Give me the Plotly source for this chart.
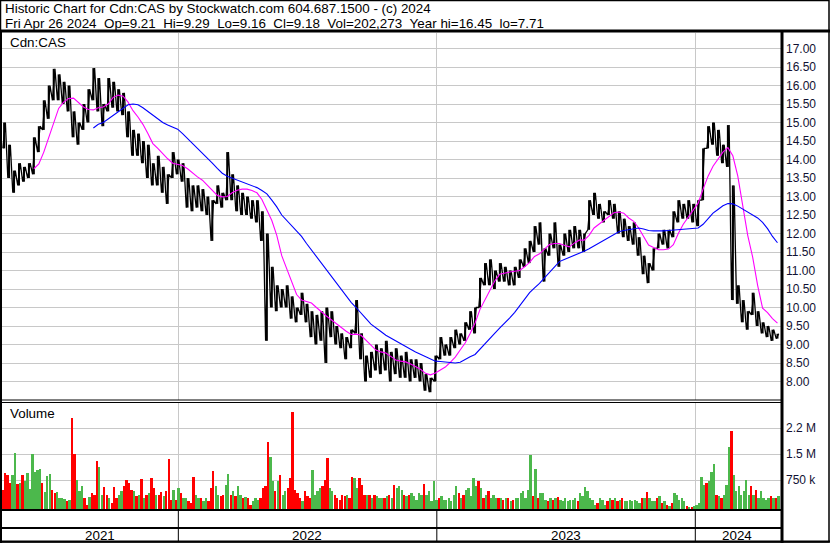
"""
Stockwatch style historic chart for Cdn:CAS (weekly highs / lows read off the chart).
"""
import pandas as pd
import plotly.graph_objects as go

W, H = 830, 543
# plot area in pixels
PL, PR, PT, PB = 2, 781, 33, 509

# week-ending Fridays covered by the chart
weeks = pd.date_range("2021-04-30", "2024-04-26", freq="W-FRI")

week_hi = [
    15.0, 14.4, 13.7, 13.9, 13.8, 13.9, 14.6, 14.9, 15.6, 16.0,
    16.45, 16.3, 16.1, 16.0, 15.3, 15.0, 15.5, 15.9, 16.47, 16.2,
    15.5, 16.2, 16.1, 15.9, 15.8, 15.3, 14.8, 14.7, 14.5, 14.4,
    13.9, 14.1, 13.8, 13.6, 14.2, 14.0, 13.9, 13.5, 13.3, 13.3,
    13.2, 13.0, 12.9, 13.3, 13.1, 14.2, 13.6, 13.3, 13.1, 13.0,
    12.9, 12.9, 12.6, 12.0, 11.1, 10.6, 10.5, 10.6, 10.3, 10.0,
    10.4, 10.1, 9.9, 9.8, 9.9, 10.0, 9.9, 9.5, 9.3, 9.2,
    9.4, 10.2, 9.3, 8.7, 8.8, 9.0, 8.9, 9.1, 8.8, 8.9,
    8.7, 8.8, 8.6, 8.6, 8.5, 8.2, 8.1, 8.7, 9.2, 9.0,
    9.2, 9.4, 9.3, 9.6, 9.9, 10.0, 10.8, 11.2, 11.3, 11.0,
    11.2, 11.1, 11.0, 11.1, 11.3, 11.6, 11.8, 12.2, 12.3, 11.6,
    12.0, 12.3, 11.7, 12.0, 12.1, 12.2, 12.1, 12.0, 12.9, 13.1,
    12.8, 12.6, 12.9, 12.8, 12.6, 12.4, 12.2, 12.3, 11.9, 11.4,
    11.2, 11.6, 12.0, 12.1, 12.1, 12.6, 12.9, 12.8, 12.9, 12.8,
    12.9, 14.3, 14.9, 15.0, 14.8, 14.4, 14.93, 13.3, 10.6, 10.2,
    9.9, 10.4, 9.9, 9.6, 9.5, 9.4, 9.29,
]
week_lo = [
    14.3, 13.5, 13.1, 13.3, 13.4, 13.5, 13.6, 14.2, 14.8, 15.1,
    15.6, 15.6, 15.5, 15.3, 14.6, 14.4, 14.8, 15.0, 15.6, 15.3,
    14.9, 15.3, 15.4, 15.3, 15.2, 14.6, 14.1, 14.1, 13.9, 13.5,
    13.3, 13.3, 13.1, 12.8, 13.5, 13.6, 13.4, 12.7, 12.6, 12.7,
    12.6, 12.5, 11.8, 12.8, 12.7, 12.9, 12.9, 12.6, 12.5, 12.5,
    12.4, 12.3, 11.8, 9.1, 10.0, 9.9, 10.0, 10.0, 9.7, 9.6,
    9.8, 9.6, 9.2, 9.0, 9.1, 8.5, 9.2, 9.0, 8.9, 8.6,
    8.9, 9.3, 8.6, 8.0, 8.1, 8.3, 8.2, 8.3, 8.0, 8.2,
    8.1, 8.1, 8.0, 8.1, 8.0, 7.75, 7.71, 8.0, 8.6, 8.7,
    8.7, 8.9, 9.0, 9.1, 9.4, 9.3, 10.0, 10.6, 10.6, 10.5,
    10.7, 10.7, 10.6, 10.6, 10.8, 11.1, 11.2, 11.5, 11.7, 10.7,
    11.4, 11.6, 11.1, 11.4, 11.5, 11.6, 11.6, 11.5, 12.1, 12.5,
    12.4, 12.3, 12.5, 12.4, 12.0, 11.9, 11.8, 11.7, 11.4, 10.9,
    10.66, 11.0, 11.6, 11.7, 11.6, 11.9, 12.3, 12.4, 12.4, 12.3,
    12.2, 12.9, 14.3, 14.4, 14.1, 13.9, 13.8, 10.2, 10.1, 9.6,
    9.4, 9.8, 9.5, 9.3, 9.2, 9.1, 9.16,
]

# short (magenta) and long (blue) moving averages, read weekly
ma_short = [None] * 6 + [
    13.75, 13.88, 14.2, 14.6,
    15.0, 15.38, 15.55, 15.65, 15.66, 15.55, 15.42, 15.35, 15.34, 15.4,
    15.42, 15.5, 15.68, 15.74, 15.71, 15.55, 15.32, 15.15, 14.95, 14.7,
    14.43, 14.3, 14.15, 14.02, 13.9, 13.87, 13.84, 13.75, 13.63, 13.53,
    13.44, 13.3, 13.17, 13.03, 12.99, 13.0, 13.1, 13.17, 13.2, 13.2,
    13.16, 13.1, 12.92, 12.65, 12.35, 11.95, 11.4, 11.05, 10.7, 10.35,
    10.2, 10.16, 10.12, 10.0, 9.88, 9.77, 9.67, 9.56, 9.45, 9.36,
    9.27, 9.28, 9.25, 9.12, 8.98, 8.85, 8.8, 8.77, 8.68, 8.58,
    8.55, 8.53, 8.47, 8.4, 8.33, 8.22, 8.18, 8.23, 8.3, 8.39,
    8.52, 8.66, 8.85, 9.04, 9.3, 9.58, 9.95, 10.2, 10.45, 10.72,
    10.9, 10.94, 10.96, 10.98, 11.0, 11.1, 11.22, 11.38, 11.45, 11.58,
    11.7, 11.73, 11.73, 11.68, 11.64, 11.74, 11.82, 11.82, 11.95, 12.15,
    12.25, 12.34, 12.45, 12.56, 12.58, 12.55, 12.42, 12.33, 12.15, 11.92,
    11.69, 11.62, 11.56, 11.56, 11.58, 11.7, 12.0, 12.25, 12.45, 12.65,
    12.82, 13.2, 13.55, 13.82, 14.0, 14.2, 14.32, 14.1, 13.55, 12.7,
    11.95, 11.36, 10.6, 9.98, 9.86, 9.7, 9.58,
]
ma_long = [None] * 18 + [
    14.85, 14.95,
    15.0, 15.1, 15.2, 15.3, 15.39, 15.48, 15.5, 15.48, 15.4, 15.3,
    15.2, 15.1, 15.0, 14.93, 14.88, 14.82, 14.7, 14.57, 14.44, 14.3,
    14.17, 14.04, 13.9, 13.76, 13.63, 13.55, 13.5, 13.45, 13.4, 13.35,
    13.3, 13.24, 13.16, 13.07, 12.9, 12.72, 12.5, 12.36, 12.22, 12.08,
    11.92, 11.73, 11.55, 11.37, 11.2, 11.02, 10.85, 10.65, 10.47, 10.29,
    10.14, 10.0, 9.86, 9.7, 9.55, 9.44, 9.35, 9.25, 9.17, 9.09,
    9.02, 8.94, 8.87, 8.8, 8.74, 8.68, 8.61, 8.55, 8.54, 8.53,
    8.52, 8.5, 8.52, 8.6, 8.67, 8.73, 8.88, 9.04, 9.18, 9.31,
    9.45, 9.58, 9.72, 9.87, 10.05, 10.24, 10.4, 10.53, 10.65, 10.8,
    10.95, 11.12, 11.24, 11.3, 11.35, 11.4, 11.46, 11.52, 11.59, 11.67,
    11.75, 11.83, 11.91, 11.98, 12.05, 12.08, 12.1, 12.13, 12.15, 12.12,
    12.08, 12.07, 12.06, 12.07, 12.08, 12.09, 12.1, 12.11, 12.12, 12.13,
    12.15, 12.25, 12.4, 12.55, 12.65, 12.75, 12.81, 12.8, 12.74, 12.66,
    12.58, 12.5, 12.42, 12.3, 12.13, 11.92, 11.75,
]

# volume, two half-week bars per week (thousands of shares), g = up, r = down
vol_a = [
    560, 990, 990, 724, 990, 1040, 1600, 1130, 750, 960,
    560, 480, 330, 220, 2630, 840, 655, 125, 460, 1380,
    413, 413, 173, 317, 510, 840, 558, 365, 865, 413,
    894, 413, 490, 510, 270, 270, 462, 317, 173, 413,
    317, 317, 620, 654, 365, 700, 413, 365, 413, 360,
    125, 317, 317, 650, 1490, 510, 970, 510, 895, 558,
    317, 510, 317, 413, 606, 840, 606, 413, 270, 365,
    317, 894, 895, 413, 413, 413, 317, 317, 413, 700,
    654, 413, 413, 365, 462, 720, 510, 800, 317, 270,
    317, 413, 462, 413, 606, 894, 800, 317, 510, 413,
    317, 270, 317, 270, 317, 510, 558, 365, 317, 462,
    221, 270, 350, 221, 221, 270, 221, 365, 510, 270,
    173, 270, 221, 270, 221, 317, 221, 221, 221, 317,
    480, 221, 317, 173, 125, 173, 413, 317, 80, 60,
    125, 920, 760, 1070, 413, 317, 700, 2240, 510, 413,
    835, 654, 558, 510, 270, 365, 317,
]
dir_a = (
    "rrgrrgggrg" "rggrrggrrr" "grrrgrrrrr" "rgrrrrrgrg"
    "rgrgrgrrgg" "rgrrgrrgrr" "rrrggrgrrr" "rgrrrrgrrr"
    "grrggrggrg" "ggrrggrrrg" "rrrrgggrrg" "rrrgggrggg"
    "rgrrrrgggr" "rgrrrrggrr" "ggrgrrgrgg" "grrggrr"
)
vol_b = [
    1040, 750, 1620, 750, 800, 580, 1080, 1150, 480, 1000,
    450, 330, 300, 260, 1590, 520, 320, 350, 413, 1200,
    626, 317, 626, 413, 654, 750, 510, 413, 317, 462,
    606, 413, 365, 1440, 558, 606, 330, 221, 915, 317,
    221, 221, 1100, 413, 413, 1000, 510, 654, 317, 317,
    221, 270, 606, 1930, 800, 798, 413, 606, 2800, 462,
    221, 365, 1130, 510, 654, 1470, 510, 317, 413, 413,
    915, 606, 702, 413, 317, 365, 317, 365, 317, 606,
    558, 365, 462, 270, 413, 413, 221, 270, 365, 270,
    221, 650, 317, 558, 365, 654, 606, 413, 317, 317,
    317, 317, 221, 317, 462, 317, 1550, 1150, 462, 270,
    317, 317, 270, 317, 270, 317, 462, 640, 317, 125,
    317, 125, 317, 317, 270, 221, 270, 270, 173, 317,
    317, 221, 365, 221, 77, 462, 270, 221, 60, 77,
    173, 702, 800, 1300, 365, 413, 1780, 980, 655, 510,
    413, 413, 317, 317, 317, 317, 365,
]
dir_b = (
    "rrggggggggr" "gggrgrgrgr" "grgrrggggr" "rgrgggrrgg"
    "rrgrgggrrgg" "rrgggrrrgr" "ggrrgrrgrgr" "gg"
)

price_ticks = [8.0, 8.5, 9.0, 9.5, 10.0, 10.5, 11.0, 11.5, 12.0, 12.5, 13.0,
               13.5, 14.0, 14.5, 15.0, 15.5, 16.0, 16.5, 17.0]
vol_ticks = [750000, 1500000, 2250000]
vol_tick_text = ["750 k", "1.5 M", "2.2 M"]
year_edges = ["2022-01-01", "2023-01-01", "2024-01-01"]
year_labels = ["2021", "2022", "2023", "2024"]
year_mids = ["2021-09-13", "2022-07-02", "2023-07-02", "2024-02-29"]

header1 = "Historic Chart for Cdn:CAS by Stockwatch.com 604.687.1500 - (c) 2024"
header2 = ("Fri Apr 26 2024&nbsp;&nbsp;Op=9.21&nbsp;&nbsp;Hi=9.29&nbsp;&nbsp;Lo=9.16"
           "&nbsp;&nbsp;Cl=9.18&nbsp;&nbsp;Vol=202,273&nbsp;&nbsp;Year hi=16.45&nbsp;&nbsp;lo=7.71")

FONT = "Liberation Sans, Arial, sans-serif"
GREEN = "#4cb84c"
RED = "#ff0000"
TXT = 13.4


def px(x):
    return (x - PL) / (PR - PL)


def py(y):
    return (PB - y) / (PB - PT)


day = pd.Timedelta(days=1)
pos_a = weeks - 1.75 * day
pos_b = weeks + 1.75 * day

# pad the volume colour strings if they came out short
dir_a = (dir_a + "r" * len(vol_a))[:len(vol_a)]
dir_b = (dir_b + "g" * len(vol_b))[:len(vol_b)]

# zig-zag through the weekly low and high, plus a high-low bar for each week
zx, zy = [], []
bx, by = [], []
for a, b, wk, lo, hi in zip(pos_a, pos_b, weeks, week_lo, week_hi):
    zx += [a, b]
    zy += [lo, hi]
    bx += [wk, wk, None]
    by += [lo, hi, None]

fig = go.Figure()
fig.add_trace(go.Scatter(x=bx, y=by, mode="lines", line=dict(color="black", width=2),
                         xaxis="x", yaxis="y", hoverinfo="skip"))
fig.add_trace(go.Scatter(x=zx, y=zy, mode="lines", line=dict(color="black", width=1.3),
                         xaxis="x", yaxis="y", hoverinfo="skip"))
fig.add_trace(go.Scatter(x=weeks, y=ma_short, mode="lines", line=dict(color="#ff00ff", width=1.1),
                         xaxis="x", yaxis="y", connectgaps=False))
fig.add_trace(go.Scatter(x=weeks, y=ma_long, mode="lines", line=dict(color="#0000ff", width=1.1),
                         xaxis="x", yaxis="y", connectgaps=False))

bar_w = 2.6 * 86400000
fig.add_trace(go.Bar(x=pos_a, y=[v * 1000 for v in vol_a], base=-87000,
                     marker=dict(color=[GREEN if c == "g" else RED for c in dir_a], line_width=0),
                     width=bar_w, xaxis="x2", yaxis="y2"))
fig.add_trace(go.Bar(x=pos_b, y=[v * 1000 for v in vol_b], base=-87000,
                     marker=dict(color=[GREEN if c == "g" else RED for c in dir_b], line_width=0),
                     width=bar_w, xaxis="x2", yaxis="y2"))

xrange = ["2021-04-27", "2024-05-01"]
grid = "#c8c8c8"
axis_x = dict(type="date", range=xrange, tickvals=year_edges, showticklabels=False,
              showgrid=True, gridcolor=grid, gridwidth=1, zeroline=False, showline=False,
              ticks="")

# price axis spans 7.5 (y=400) up to the top of the panel
p_top = 17 + (48.5 - PT) / 37
p_bot = 17 - (400 - 48.5) / 37
v_per_px = 750000 / 26
v_bot = -(509 - 506) * v_per_px
v_top = (506 - 403) * v_per_px

fig.update_layout(
    width=W, height=H,
    margin=dict(l=PL, r=W - PR, t=PT, b=H - PB),
    paper_bgcolor="white", plot_bgcolor="white",
    showlegend=False, bargap=0, barmode="overlay",
    font=dict(family=FONT, size=12, color="black"),
    xaxis=dict(axis_x, domain=[0, 1], anchor="y"),
    xaxis2=dict(axis_x, domain=[0, 1], anchor="y2", matches="x"),
    yaxis=dict(domain=[py(400), 1], range=[p_bot, p_top], side="right",
               tickvals=price_ticks, ticktext=["%.2f" % t for t in price_ticks],
               showgrid=True, gridcolor=grid, zeroline=False, ticks="",
               ticklabelstandoff=4, tickfont=dict(size=12, color="#111133")),
    yaxis2=dict(domain=[0, py(403)], range=[v_bot, v_top], side="right",
                tickvals=vol_ticks, ticktext=vol_tick_text,
                showgrid=True, gridcolor=grid, zeroline=False, ticks="",
                ticklabelstandoff=4, tickfont=dict(size=12, color="#111133")),
)

shapes = []


def hline(y, x0=0, x1=W, w=1):
    shapes.append(dict(type="line", xref="paper", yref="paper", x0=px(x0), x1=px(x1),
                       y0=py(y), y1=py(y), line=dict(color="black", width=w)))


def vline(x, y0, y1, w=1):
    shapes.append(dict(type="line", xref="paper", yref="paper", x0=px(x), x1=px(x),
                       y0=py(y0), y1=py(y1), line=dict(color="black", width=w)))


# frame
shapes.append(dict(type="rect", xref="paper", yref="paper", x0=px(0.5), x1=px(829),
                   y0=py(542), y1=py(0.5), line=dict(color="black", width=1.5)))
hline(31, w=3)
hline(400, 0, PR)
hline(402.5, 0, PR)
hline(510, 0, PR, w=2)
hline(528, 0, PR, w=2)
hline(541.5, 0, W, w=2)
vline(782, 31, 543, w=3)
vline(1, 31, 543, w=2)
for d in year_edges:
    shapes.append(dict(type="line", xref="x", yref="paper", x0=d, x1=d,
                       y0=py(510), y1=py(542), line=dict(color="black", width=1)))
fig.update_layout(shapes=shapes)

ann = [
    dict(text=header1, x=px(3), y=py(9), xanchor="left", yanchor="middle",
         font=dict(size=TXT)),
    dict(text=header2, x=px(3), y=py(23), xanchor="left", yanchor="middle",
         font=dict(size=TXT)),
    dict(text="Cdn:CAS", x=px(8), y=py(42), xanchor="left", yanchor="middle",
         font=dict(size=TXT)),
    dict(text="Volume", x=px(8), y=py(413), xanchor="left", yanchor="middle",
         font=dict(size=TXT)),
]
for a in ann:
    a.update(xref="paper", yref="paper", showarrow=False)
for lab, mid in zip(year_labels, year_mids):
    ann.append(dict(text=lab, x=mid, y=py(535), xref="x", yref="paper", showarrow=False,
                    xanchor="center", yanchor="middle", font=dict(size=TXT)))
fig.update_layout(annotations=ann)

# the page's default body margin would push the chart 8px down and right
fig.write_html("out.html", config={"displayModeBar": False},
               post_script="document.body.style.margin='0';")
